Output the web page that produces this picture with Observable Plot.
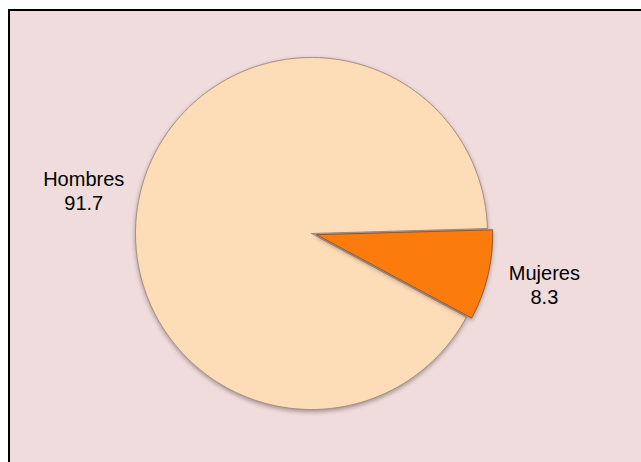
<!DOCTYPE html>
<html>
<head>
<meta charset="utf-8">
<script src="https://cdn.jsdelivr.net/npm/d3@7"></script>
<script src="https://cdn.jsdelivr.net/npm/@observablehq/plot@0.6"></script>
<style>
  html, body { margin: 0; padding: 0; background: #ffffff; }
  #wrap { position: relative; width: 641px; height: 462px; overflow: hidden; background: #ffffff; }
  #box { position: absolute; left: 8px; top: 9px; width: 700px; height: 500px;
         background: #f0dcdc; border: 2px solid #000; box-sizing: border-box; }
  #chart { position: absolute; left: 0; top: 0; }
  #chart svg { background: transparent; }
</style>
</head>
<body>
<div id="wrap"><div id="box"></div><div id="chart"></div></div>
<script>
// Data
const categories = ["Mujeres", "Hombres"];
const values = [8.3, 91.7];
const valueLabels = ["8.3", "91.7"];
const sliceColors = ["#fb7b0c", "#fddcb8"];
const explode = [0.03, 0];          // radial offset (in radius units)
const startDeg = 88.4;              // compass angle where first slice starts

// Build slice polygons in unit-radius coordinates (y up)
const total = d3.sum(values);
let a = startDeg * Math.PI / 180;
const polys = [];
const labels = [];
categories.forEach((cat, i) => {
  const span = values[i] / total * 2 * Math.PI;
  const a0 = a, a1 = a + span, mid = (a0 + a1) / 2;
  const ox = explode[i] * Math.sin(mid), oy = explode[i] * Math.cos(mid);
  const steps = Math.max(8, Math.ceil(span / 0.01));
  polys.push({cat, x: ox, y: oy});
  for (let k = 0; k <= steps; k++) {
    const t = a0 + span * k / steps;
    polys.push({cat, x: ox + Math.sin(t), y: oy + Math.cos(t)});
  }
  polys.push({cat, x: ox, y: oy});
  labels.push({cat, text: cat + "\n" + valueLabels[i],
               x: ox + 1.33 * Math.sin(mid), y: oy + 1.14 * Math.cos(mid)});
  a = a1;
});

const R = 176, cx = 311, cy = 233, W = 641, H = 462;

const chart = Plot.plot({
  width: W, height: H, margin: 0,
  x: {domain: [-cx / R, (W - cx) / R], axis: null},
  y: {domain: [-(H - cy) / R, cy / R], axis: null},
  color: {domain: categories, range: sliceColors},
  marks: [
    Plot.line(polys.filter(d => d.cat === "Hombres"), {x: "x", y: "y", fill: "cat", stroke: "#a08c80", strokeWidth: 1, curve: "linear", className: "slice"}),
    Plot.line(polys.filter(d => d.cat === "Mujeres"), {x: "x", y: "y", fill: "cat", stroke: "#8a5a30", strokeWidth: 1, curve: "linear", className: "slice"}),
    Plot.text(labels, {x: "x", y: "y", text: "text", fontSize: 20, lineHeight: 1.2,
      fill: "#000", fontFamily: "Liberation Sans, Arial, sans-serif", textAnchor: "middle", dy: 3.5})
  ]
});
chart.querySelectorAll(".slice path").forEach(p => {
  p.style.filter = "drop-shadow(0px 2px 2px rgba(80,60,60,0.45))";
});
document.getElementById("chart").appendChild(chart);
</script>
</body>
</html>
